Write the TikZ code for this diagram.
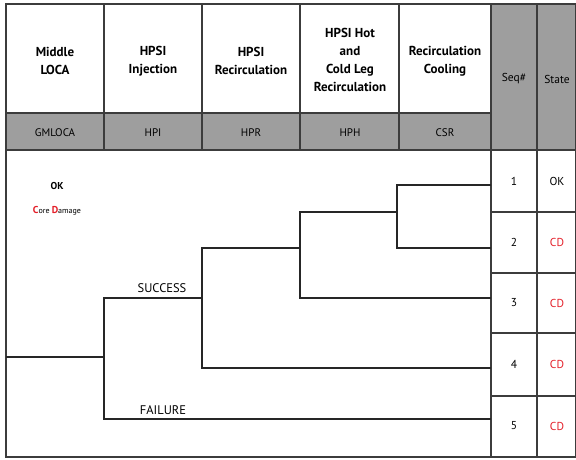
\documentclass[tikz,border=0pt]{standalone}
\usepackage{fontspec}
\setmainfont{PT Sans}
\definecolor{bandgray}{RGB}{158,158,158}
\definecolor{gridline}{RGB}{60,60,60}
\definecolor{cdred}{RGB}{228,30,40}
\begin{document}
\begin{tikzpicture}[x=1pt,y=-1pt,
  grid/.style={draw=gridline,line width=1.3pt},
  branch/.style={draw=black!85,line width=2pt,line join=miter},
  head/.style={font=\bfseries\fontsize{13}{18}\selectfont,align=center,inner sep=0pt},
  code/.style={font=\fontsize{11}{13}\selectfont,inner sep=0pt},
  cell/.style={font=\fontsize{11.5}{13}\selectfont,inner sep=0pt},
  cd/.style={cell,text=cdred},
  pathlabel/.style={font=\fontsize{12.5}{14}\selectfont,inner sep=0pt,anchor=base}]
\useasboundingbox (0,0) rectangle (576,459);
\fill[white] (0,0) rectangle (576,459);

% shaded bands
\fill[bandgray] (6,113) rectangle (491,150);
\fill[bandgray] (491,4) rectangle (576,150);

% table rules
\draw[grid] (6,4) rectangle (576,457);
\draw[grid] (6,113) -- (491,113);
\draw[grid] (6,150) -- (576,150);
\foreach \x in {104,202,300,399} \draw[grid] (\x,4) -- (\x,150);
\draw[grid] (491,4) -- (491,457);
\draw[grid] (537,4) -- (537,457);
\foreach \y in {212,273,333,396} \draw[grid] (491,\y) -- (576,\y);

% column headings
\node[head] (hGM)  at (55,61)  {Middle\\LOCA};
\node[head] (hHPI) at (153,61) {HPSI\\Injection};
\node[head] (hHPR) at (251,61) {HPSI\\Recirculation};
\node[head] (hHPH) at (350,60) {HPSI Hot\\and\\Cold Leg\\Recirculation};
\node[head] (hCSR) at (445,61) {Recirculation\\Cooling};
\node[cell] (hSeq) at (514,79) {Seq\#};
\node[cell] (hSt)  at (557,79) {State};

% event codes
\node[code] (cGM)  at (55,133)  {GMLOCA};
\node[code] (cHPI) at (153,133) {HPI};
\node[code] (cHPR) at (251,133) {HPR};
\node[code] (cHPH) at (350,133) {HPH};
\node[code] (cCSR) at (445,133) {CSR};

% legend
\node[font=\bfseries\fontsize{10}{12}\selectfont,inner sep=0pt] (lgOK) at (57,186) {OK};
\node[font=\fontsize{8}{10}\selectfont,inner sep=0pt] (lgCD) at (57,211)
  {\textcolor{cdred}{\bfseries\fontsize{10}{10}\selectfont C}ore \textcolor{cdred}{\bfseries\fontsize{10}{10}\selectfont D}amage};

% sequence numbers and end states
\foreach \n/\y in {1/181,2/242,3/303,4/364,5/426}
  \node[cell] (seq\n) at (514,\y) {\n};
\node[cell] (st1) at (557,181) {OK};
\foreach \n/\y in {2/242,3/303,4/364,5/426}
  \node[cd] (st\n) at (557,\y) {CD};

% event tree branch points
\coordinate (init) at (6,357);
\coordinate (gA)   at (104,357);
\coordinate (sA)   at (104,298);
\coordinate (fA)   at (104,419);
\coordinate (gB)   at (202,298);
\coordinate (sB)   at (202,248);
\coordinate (fB)   at (202,368);
\coordinate (gC)   at (300,248);
\coordinate (sC)   at (300,212);
\coordinate (fC)   at (300,298);
\coordinate (gD)   at (397,212);
\coordinate (sD)   at (397,185);
\coordinate (fD)   at (397,248);
\coordinate (end1) at (491,185);
\coordinate (end2) at (491,248);
\coordinate (end3) at (491,298);
\coordinate (end4) at (491,368);
\coordinate (end5) at (491,419);

% event tree
\draw[branch] (init) -- (gA);
\draw[branch] (gB) -- (sA) -- (fA) -- (end5);
\draw[branch] (gC) -- (sB) -- (fB) -- (end4);
\draw[branch] (gD) -- (sC) -- (fC) -- (end3);
\draw[branch] (end1) -- (sD) -- (fD) -- (end2);

% branch labels
\node[pathlabel] (lblS) at (162,292) {SUCCESS};
\node[pathlabel] (lblF) at (163,414) {FAILURE};
\end{tikzpicture}
\end{document}
